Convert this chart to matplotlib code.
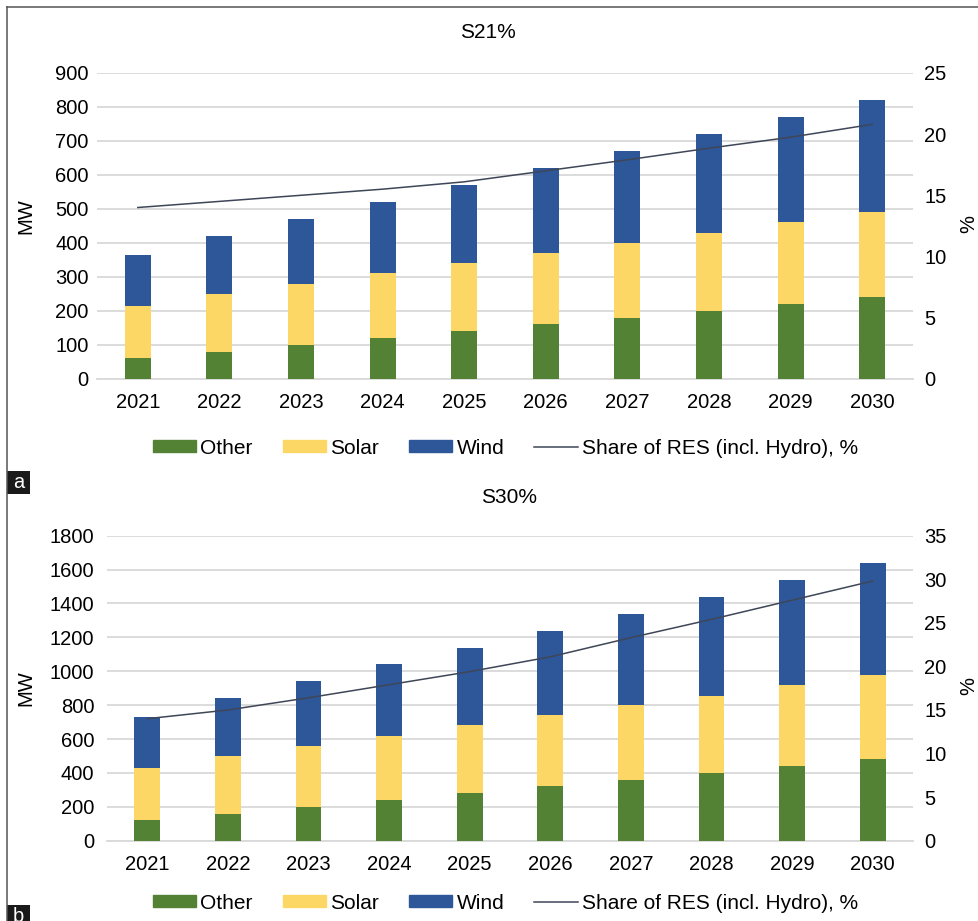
import matplotlib
matplotlib.use("Agg")
import matplotlib.pyplot as plt
from matplotlib.patches import Patch, Rectangle
from matplotlib.lines import Line2D
import numpy as np

plt.rcParams['font.family'] = ['Liberation Sans', 'DejaVu Sans']

years = ["2021", "2022", "2023", "2024", "2025", "2026", "2027", "2028", "2029", "2030"]

# Panel a: S21%
a_other = [60, 80, 100, 120, 140, 160, 180, 200, 220, 240]
a_solar = [155, 170, 180, 190, 200, 210, 220, 230, 240, 250]
a_wind = [150, 170, 190, 210, 230, 250, 270, 290, 310, 330]
a_share = [14.0, 14.5, 15.0, 15.5, 16.1, 17.0, 17.9, 18.85, 19.75, 20.8]

# Panel b: S30%
b_other = [120, 160, 200, 240, 280, 320, 360, 400, 440, 480]
b_solar = [310, 340, 360, 380, 400, 420, 440, 455, 480, 500]
b_wind = [300, 340, 380, 420, 460, 500, 540, 585, 620, 660]
b_share = [14.0, 15.0, 16.4, 17.9, 19.4, 21.1, 23.3, 25.4, 27.6, 29.8]

left_ticks_a = [0, 100, 200, 300, 400, 500, 600, 700, 800, 900]
right_ticks_a = [0, 5, 10, 15, 20, 25]
left_ticks_b = [0, 200, 400, 600, 800, 1000, 1200, 1400, 1600, 1800]
right_ticks_b = [0, 5, 10, 15, 20, 25, 30, 35]

C_OTHER = '#548235'
C_SOLAR = '#FDD766'
C_WIND = '#2D5798'
C_LINE = '#3E4657'
C_GRID = '#D9D9D9'
FS = 14.5
FSL = 15

W, H = 979, 921
fig = plt.figure(figsize=(W / 100, H / 100), dpi=100)


def px_axes(x0, y_top, x1, y_bot):
    return fig.add_axes([x0 / W, 1 - y_bot / H, (x1 - x0) / W, (y_bot - y_top) / H])


def panel(ax, other, solar, wind, share, lticks, rticks, lpad):
    x = np.arange(len(years))
    other = np.array(other)
    solar = np.array(solar)
    wind = np.array(wind)
    bw = 0.32
    ax.bar(x, other, bw, color=C_OTHER, zorder=3)
    ax.bar(x, solar, bw, bottom=other, color=C_SOLAR, zorder=3)
    ax.bar(x, wind, bw, bottom=other + solar, color=C_WIND, zorder=3)
    ax.set_xlim(-0.5, len(years) - 0.5)
    ax.set_ylim(lticks[0], lticks[-1])
    ax.set_yticks(lticks)
    ax.set_xticks(x)
    ax.set_xticklabels(years, fontsize=FS)
    ax.tick_params(axis='x', length=0, pad=10)
    ax.tick_params(axis='y', length=0, pad=lpad, labelsize=FS)
    ax.grid(axis='y', color=C_GRID, linewidth=1.3, zorder=0)
    ax.set_axisbelow(True)
    for s in ['top', 'right', 'left']:
        ax.spines[s].set_visible(False)
    ax.spines['bottom'].set_color(C_GRID)
    ax.spines['bottom'].set_linewidth(1.3)
    ax2 = ax.twinx()
    ax2.plot(x, share, color=C_LINE, linewidth=1.1, zorder=5)
    ax2.set_ylim(rticks[0], rticks[-1])
    ax2.set_yticks(rticks)
    ax2.tick_params(axis='y', length=0, pad=8, labelsize=FS)
    for s in ax2.spines.values():
        s.set_visible(False)
    return ax2


axA = px_axes(97, 73, 913, 378.7)
axA2 = panel(axA, a_other, a_solar, a_wind, a_share, left_ticks_a, right_ticks_a, 6)
axB = px_axes(107, 535.7, 913, 840.7)
axB2 = panel(axB, b_other, b_solar, b_wind, b_share, left_ticks_b, right_ticks_b, 9)

# axis titles
fig.text(26 / W, 1 - 216 / H, 'MW', rotation=90, ha='center', va='center', fontsize=FS)
fig.text(26 / W, 1 - 688 / H, 'MW', rotation=90, ha='center', va='center', fontsize=FS)
fig.text(969 / W, 1 - 224 / H, '%', rotation=90, ha='center', va='center', fontsize=FS)
fig.text(969 / W, 1 - 686 / H, '%', rotation=90, ha='center', va='center', fontsize=FS)

fig.text(488 / W, 1 - 33 / H, 'S21%', ha='center', va='center', fontsize=FSL)
fig.text(509.5 / W, 1 - 497 / H, 'S30%', ha='center', va='center', fontsize=FSL)

handles = [Patch(color=C_OTHER), Patch(color=C_SOLAR), Patch(color=C_WIND),
           Line2D([0], [0], color=C_LINE, linewidth=1.1)]
labels = ['Other', 'Solar', 'Wind', 'Share of RES (incl. Hydro), %']
for yc in (448, 903):
    fig.legend(handles, labels, loc='center', bbox_to_anchor=(505.5 / W, 1 - yc / H),
               ncol=4, frameon=False, fontsize=FSL, handlelength=2.07, handleheight=0.53,
               handletextpad=0.2, columnspacing=1.45, borderpad=0, borderaxespad=0)

# panel frame lines
fig.add_artist(Line2D([7 / W, 7 / W], [0, 1 - 7 / H], color='#555555', linewidth=1.1,
                      transform=fig.transFigure))
fig.add_artist(Line2D([7 / W, 1], [1 - 7 / H, 1 - 7 / H], color='#555555', linewidth=1.1,
                      transform=fig.transFigure))

# panel labels
for lab, ytop, ybot in (('a', 471, 494), ('b', 905, 928)):
    fig.add_artist(Rectangle((7 / W, 1 - ybot / H), 23 / W, (ybot - ytop) / H,
                             transform=fig.transFigure, facecolor='#1a1a1a', edgecolor='none'))
    fig.text(18.5 / W, 1 - (ytop + 11.5) / H, lab, color='white', ha='center', va='center',
             fontsize=FS)

fig.savefig('out.png', dpi=100)
